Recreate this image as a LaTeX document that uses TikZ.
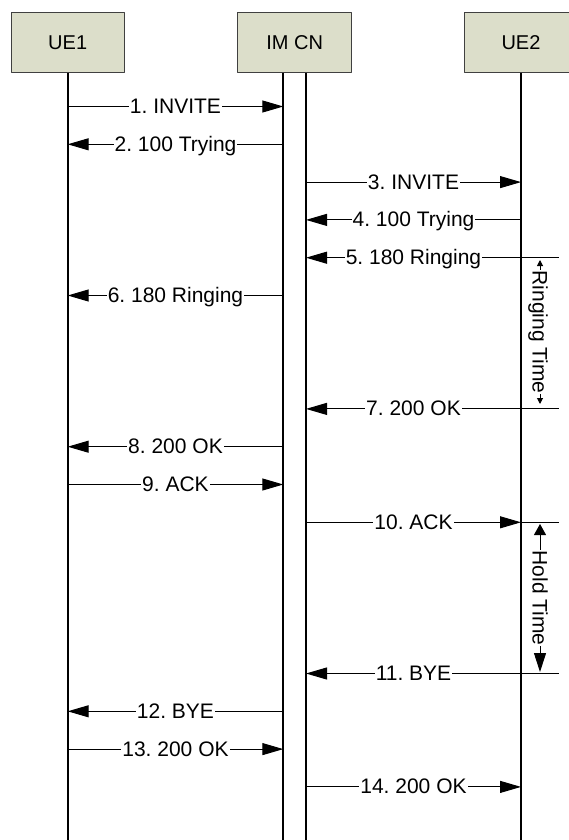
\documentclass[tikz,border=0pt]{standalone}
\usepackage{fontspec}
\setmainfont{Liberation Sans}
\usetikzlibrary{arrows.meta}
\definecolor{entityfill}{RGB}{220,222,202}
\tikzset{
  entity/.style={draw=black!75, fill=entityfill, line width=1pt, minimum width=113.4pt, minimum height=60pt, inner sep=0pt, font=\fontsize{20}{24}\selectfont},
  lifeline/.style={line width=2pt},
  msg/.style={line width=1pt, -{Triangle[length=21pt,width=12pt]}},
  stub/.style={line width=1pt},
  msglabel/.style={fill=white, inner xsep=1pt, inner ysep=0pt, anchor=base, yshift=-7pt, font=\fontsize{21}{25}\selectfont\frenchspacing},
  spanlabel/.style={fill=white, inner xsep=1pt, inner ysep=0pt, anchor=base, rotate=-90, font=\fontsize{21}{25}\selectfont},
}
\begin{document}
\frenchspacing
\begin{tikzpicture}[x=1pt, y=-1pt, line join=round]
  \clip (0,0) rectangle (569,840);
  % entities
  \node[entity] (ue1) at (67.7,42.3) {UE1};
  \node[entity] (imcn) at (294.65,42.3) {IM CN};
  \node[entity] (ue2) at (521,42.3) {UE2};
  \coordinate (cnin) at ([xshift=-11.35pt]imcn.south);
  \coordinate (cnout) at ([xshift=11.35pt]imcn.south);
  \coordinate (bottom) at (0,840);
  \coordinate (edge) at (559,0);
  % lifelines
  \draw[lifeline] (ue1.south) -- (ue1.south |- bottom);
  \draw[lifeline] (cnin) -- (cnin |- bottom);
  \draw[lifeline] (cnout) -- (cnout |- bottom);
  \draw[lifeline] (ue2.south) -- (ue2.south |- bottom);
  % message rows
  \foreach \n/\y in {1/106.5, 2/144.3, 3/182.1, 4/219.9, 5/257.7, 6/295.5, 7/408.9,
                     8/446.7, 9/484.5, 10/522.3, 11/673.5, 12/711.3, 13/749.1, 14/786.9}
    \coordinate (r\n) at (0,\y);
  % stubs to the right
  \foreach \n in {5,7,10,11}
    \draw[stub] (ue2 |- r\n) -- (edge |- r\n);
  % messages
  \draw[msg] (ue1 |- r1) -- (cnin |- r1) node[msglabel, midway] {1. INVITE};
  \draw[msg] (cnin |- r2) -- (ue1 |- r2) node[msglabel, midway] {2. 100 Trying};
  \draw[msg] (cnout |- r3) -- (ue2 |- r3) node[msglabel, midway] {3. INVITE};
  \draw[msg] (ue2 |- r4) -- (cnout |- r4) node[msglabel, midway] {4. 100 Trying};
  \draw[msg] (ue2 |- r5) -- (cnout |- r5) node[msglabel, midway] {5. 180 Ringing};
  \draw[msg] (cnin |- r6) -- (ue1 |- r6) node[msglabel, midway] {6. 180 Ringing};
  \draw[msg] (ue2 |- r7) -- (cnout |- r7) node[msglabel, midway] {7. 200 OK};
  \draw[msg] (cnin |- r8) -- (ue1 |- r8) node[msglabel, midway] {8. 200 OK};
  \draw[msg] (ue1 |- r9) -- (cnin |- r9) node[msglabel, midway] {9. ACK};
  \draw[msg] (cnout |- r10) -- (ue2 |- r10) node[msglabel, midway] {10. ACK};
  \draw[msg] (ue2 |- r11) -- (cnout |- r11) node[msglabel, midway] {11. BYE};
  \draw[msg] (cnin |- r12) -- (ue1 |- r12) node[msglabel, midway] {12. BYE};
  \draw[msg] (ue1 |- r13) -- (cnin |- r13) node[msglabel, midway] {13. 200 OK};
  \draw[msg] (cnout |- r14) -- (ue2 |- r14) node[msglabel, midway] {14. 200 OK};
  % time spans
  \coordinate (ringtop) at (540,260);
  \coordinate (ringend) at (540,404);
  \coordinate (holdtop) at (540,524);
  \coordinate (holdend) at (540,672);
  \draw[stub, {Triangle[length=6pt,width=6pt]}-{Triangle[length=6pt,width=6pt]}] (ringtop) -- (ringend);
  \draw[stub, {Triangle[length=11pt,width=12pt]}-{Triangle[length=19pt,width=12pt]}] (holdtop) -- (holdend);
  \node[spanlabel] (ringing) at (532.5,332) {Ringing Time};
  \node[spanlabel] (hold) at (532.5,598) {Hold Time};
\end{tikzpicture}
\end{document}
